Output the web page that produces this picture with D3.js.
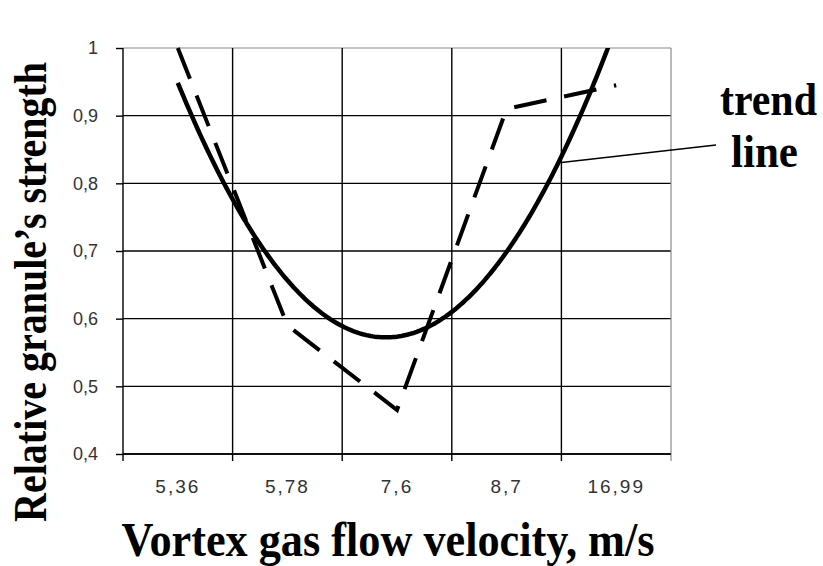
<!DOCTYPE html>
<html>
<head>
<meta charset="utf-8">
<script src="https://cdn.jsdelivr.net/npm/d3@7"></script>
<style>
body { margin: 0; background: #fff; }
svg { display: block; }
.tick text { font-family: "Liberation Sans", Arial, sans-serif; font-size: 18px; fill: #333; }
.xaxis .tick text { font-size: 19px; letter-spacing: 2px; }
.title { font-family: "Liberation Serif", "Times New Roman", serif; font-weight: bold; fill: #000; }
</style>
</head>
<body>
<div id="area"></div>
<script>
// data
var categories = ["5,36", "5,78", "7,6", "8,7", "16,99"];
var strength = [1.0, 0.59, 0.465, 0.91, 0.945];
var yTicks = [0.4, 0.5, 0.6, 0.7, 0.8, 0.9, 1];

var W = 823, H = 566;
var margin = {top: 48, right: 152, bottom: 112, left: 123},
    width = W - margin.left - margin.right,
    height = H - margin.top - margin.bottom;

var svg = d3.select('#area').append('svg')
    .attr('width', W)
    .attr('height', H);

var g = svg.append('g')
    .attr('transform', 'translate(' + margin.left + ',' + margin.top + ')');

var x = d3.scaleBand()
    .domain(categories)
    .range([0, width])
    .padding(0);
var bw = x.bandwidth();

var y = d3.scaleLinear()
    .domain([0.4, 1])
    .range([height, 0]);

function fmt(d) { return String(d).replace('.', ','); }

// horizontal grid
g.append('g')
  .selectAll('line')
  .data(yTicks)
  .enter().append('line')
    .attr('x1', 0)
    .attr('x2', width)
    .attr('y1', function(d) { return y(d); })
    .attr('y2', function(d) { return y(d); })
    .attr('stroke', function(d) { return d === 1 ? '#8a8a8a' : '#000'; })
    .attr('stroke-width', function(d) { return d === 1 ? 1.2 : 1.4; });

// vertical grid at category boundaries
var bounds = categories.slice(1).map(function(c) { return x(c); }).concat([width]);
g.append('g')
  .selectAll('line')
  .data(bounds)
  .enter().append('line')
    .attr('x1', function(d) { return d; })
    .attr('x2', function(d) { return d; })
    .attr('y1', 0)
    .attr('y2', height + 7)
    .attr('stroke', function(d, i) { return i === bounds.length - 1 ? '#8a8a8a' : '#000'; })
    .attr('stroke-width', function(d, i) { return i === bounds.length - 1 ? 1.2 : 1.4; });

// y axis
var yAxis = d3.axisLeft(y)
  .tickValues(yTicks)
  .tickSize(7)
  .tickPadding(18)
  .tickFormat(fmt);
var ya = g.append('g').attr('class', 'yaxis').call(yAxis);
ya.selectAll('path, line').attr('stroke', '#000').attr('stroke-width', 1.4);
ya.select('.domain').attr('d', 'M0,' + (height + 7) + 'V0');

// x axis
var xAxis = d3.axisBottom(x)
  .tickSize(0)
  .tickPadding(26);
var xa = g.append('g').attr('class', 'xaxis')
  .attr('transform', 'translate(0,' + height + ')')
  .call(xAxis);
xa.select('.domain').attr('stroke', '#000').attr('stroke-width', 1.4).attr('d', 'M0,0H' + width);

// polynomial (order 2) trend line, like the spreadsheet one, over x = 1..n
function quadFit(ys) {
  var s = [0, 0, 0, 0, 0], t = [0, 0, 0];
  ys.forEach(function(v, i) {
    var xi = i + 1;
    for (var k = 0; k < 5; k++) s[k] += Math.pow(xi, k);
    for (var k = 0; k < 3; k++) t[k] += v * Math.pow(xi, k);
  });
  var A = [[s[0], s[1], s[2]], [s[1], s[2], s[3]], [s[2], s[3], s[4]]];
  function det(m) {
    return m[0][0] * (m[1][1] * m[2][2] - m[1][2] * m[2][1]) -
           m[0][1] * (m[1][0] * m[2][2] - m[1][2] * m[2][0]) +
           m[0][2] * (m[1][0] * m[2][1] - m[1][1] * m[2][0]);
  }
  var D = det(A), c = [];
  for (var j = 0; j < 3; j++) {
    var M = A.map(function(row, r) { return row.map(function(v, k) { return k === j ? t[r] : v; }); });
    c.push(det(M) / D);
  }
  return function(xv) { return c[0] + c[1] * xv + c[2] * xv * xv; };
}
var trend = quadFit(strength);
var xi = d3.scaleLinear()
  .domain([1, categories.length])
  .range([bw / 2, width - bw / 2]);

svg.append('clipPath').attr('id', 'plotclip')
  .append('rect')
  .attr('x', 0).attr('y', 0).attr('width', width).attr('height', height);

var trendPts = d3.range(1, categories.length + 0.001, 0.02);
g.append('path')
  .datum(trendPts)
  .attr('clip-path', 'url(#plotclip)')
  .attr('fill', 'none')
  .attr('stroke', '#000')
  .attr('stroke-width', 4.5)
  .attr('d', d3.line()
    .x(function(d) { return xi(d); })
    .y(function(d) { return y(trend(d)); }));

// data line, dashed
g.append('path')
  .datum(strength)
  .attr('fill', 'none')
  .attr('stroke', '#000')
  .attr('stroke-width', 4)
  .attr('stroke-dasharray', '33,18')
  .attr('d', d3.line()
    .x(function(d, i) { return x(categories[i]) + bw / 2; })
    .y(function(d) { return y(d); }));

// leader to trend line
var lx = x(categories[4]);
g.append('line')
  .attr('x1', lx)
  .attr('y1', y(trend(xi.invert(lx))) + 6)
  .attr('x2', 593)
  .attr('y2', 97)
  .attr('stroke', '#000')
  .attr('stroke-width', 1.4);

// bold serif labels, squeezed horizontally like the original
function squeezed(txt, size, px, py, rot, target, anchor) {
  var t = svg.append('text').attr('class', 'title')
    .attr('font-size', size)
    .attr('text-anchor', anchor || 'start')
    .text(txt);
  var k = target / t.node().getComputedTextLength();
  t.attr('transform', 'translate(' + px + ',' + py + ')' +
    (rot ? ' rotate(' + rot + ')' : '') + ' scale(' + k + ',1)');
  return t;
}

squeezed('trend', 46, 720, 115, 0, 97);
squeezed('line', 46, 731, 167, 0, 67);
squeezed('Vortex gas flow velocity, m/s', 48, 388, 556, 0, 533, 'middle');
squeezed('Relative granule\u2019s strength', 46, 46, 292, -90, 460, 'middle');
</script>
</body>
</html>
